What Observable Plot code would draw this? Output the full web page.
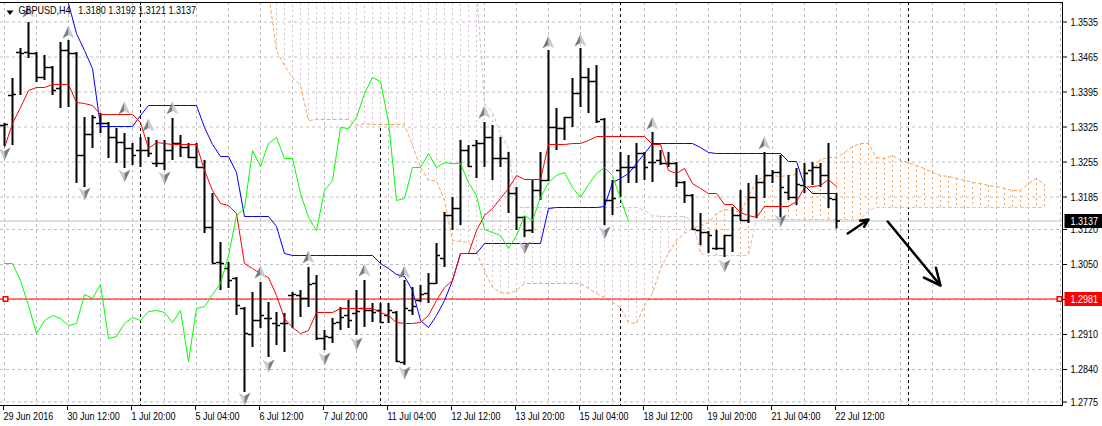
<!DOCTYPE html>
<html><head><meta charset="utf-8">
<script src="https://cdn.jsdelivr.net/npm/d3@7"></script>
<script src="https://cdn.jsdelivr.net/npm/@observablehq/plot@0.6"></script>
<style>
html,body{margin:0;padding:0;background:#fff;}
#chart{width:1102px;height:426px;overflow:hidden}
svg{display:block}
</style>
</head><body><div id="chart"></div>
<script>
// ---- data ----
const symbolName = "GBPUSD", timeframe = "H4";
const open = [
1.3328,1.3388,1.3474,1.3474,1.3472,1.3424,1.3444,1.3402,1.3478,1.3472,
1.3268,1.3310,1.3332,1.3332,1.3304,1.3294,1.3282,1.3278,1.3278,1.3252,
1.3252,1.3278,1.3292,1.3284,1.3264,1.3244,1.3124,1.3054,1.3042,1.3022,
1.2962,1.2910,1.2938,1.2942,1.2932,1.2932,1.2988,1.2988,1.2982,1.3012,
1.2902,1.2904,1.2934,1.2948,1.2952,1.2962,1.2958,1.2958,1.2948,1.2954,
1.2854,1.2958,1.2978,1.2992,1.3012,1.3062,1.3148,1.3162,1.3278,1.3288,
1.3292,1.3304,1.3262,1.3262,1.3192,1.3144,1.3118,1.3198,1.3218,1.3324,
1.3322,1.3344,1.3392,1.3424,1.3416,1.3340,1.3178,1.3238,1.3244,1.3244,
1.3272,1.3254,1.3258,1.3252,1.3252,1.3214,1.3188,1.3118,1.3114,1.3082,
1.3082,1.3108,1.3148,1.3138,1.3184,1.3214,1.3228,1.3234,1.3194,1.3184,
1.3208,1.3238,1.3244,1.3228,1.3180];
const high = [
1.3332,1.3422,1.3482,1.3534,1.3474,1.3468,1.3446,1.3494,1.3498,1.3474,
1.3344,1.3348,1.3352,1.3334,1.3322,1.3312,1.3292,1.3304,1.3304,1.3298,
1.3298,1.3342,1.3308,1.3292,1.3292,1.3258,1.3192,1.3094,1.3054,1.3024,
1.2964,1.2994,1.3014,1.2974,1.2954,1.2952,1.2994,1.2998,1.3044,1.3028,
1.2918,1.2942,1.2964,1.2978,1.2998,1.3018,1.2972,1.2972,1.2972,1.2956,
1.3018,1.3004,1.3008,1.3032,1.3092,1.3154,1.3184,1.3298,1.3288,1.3298,
1.3334,1.3328,1.3304,1.3274,1.3204,1.3146,1.3218,1.3274,1.3478,1.3362,
1.3344,1.3422,1.3482,1.3442,1.3448,1.3342,1.3218,1.3274,1.3268,1.3292,
1.3274,1.3314,1.3278,1.3274,1.3254,1.3216,1.3190,1.3152,1.3116,1.3118,
1.3108,1.3164,1.3198,1.3212,1.3228,1.3274,1.3238,1.3268,1.3228,1.3242,
1.3252,1.3254,1.3252,1.3292,1.3192];
const low = [
1.3286,1.3288,1.3388,1.3462,1.3414,1.3418,1.3388,1.3362,1.3364,1.3212,
1.3204,1.3282,1.3312,1.3262,1.3252,1.3242,1.3248,1.3244,1.3264,1.3244,
1.3238,1.3258,1.3264,1.3262,1.3242,1.3112,1.3052,1.2998,1.3002,1.2948,
1.2794,1.2884,1.2922,1.2864,1.2888,1.2874,1.2922,1.2944,1.2964,1.2898,
1.2878,1.2892,1.2918,1.2922,1.2908,1.2924,1.2934,1.2932,1.2932,1.2854,
1.2848,1.2948,1.2974,1.2972,1.3010,1.3044,1.3118,1.3128,1.3244,1.3222,
1.3244,1.3218,1.3244,1.3152,1.3118,1.3104,1.3112,1.3178,1.3216,1.3278,
1.3298,1.3324,1.3364,1.3352,1.3332,1.3128,1.3148,1.3184,1.3212,1.3212,
1.3218,1.3214,1.3248,1.3244,1.3204,1.3172,1.3118,1.3088,1.3072,1.3078,
1.3064,1.3074,1.3138,1.3132,1.3142,1.3182,1.3212,1.3144,1.3178,1.3168,
1.3192,1.3208,1.3204,1.3162,1.3121];
const close = [
1.3330,1.3390,1.3472,1.3472,1.3424,1.3444,1.3398,1.3478,1.3472,1.3268,
1.3310,1.3344,1.3332,1.3304,1.3294,1.3282,1.3268,1.3278,1.3272,1.3252,
1.3278,1.3292,1.3284,1.3264,1.3244,1.3124,1.3052,1.3052,1.3018,1.2968,
1.2912,1.2938,1.2948,1.2942,1.2928,1.2932,1.2990,1.2982,1.3010,1.2902,
1.2906,1.2932,1.2944,1.2938,1.2956,1.2958,1.2954,1.2934,1.2958,1.2856,
1.2962,1.2966,1.2990,1.3012,1.3068,1.3148,1.3162,1.3278,1.3246,1.3292,
1.3304,1.3262,1.3262,1.3192,1.3144,1.3118,1.3198,1.3218,1.3324,1.3322,
1.3344,1.3392,1.3424,1.3416,1.3336,1.3178,1.3182,1.3244,1.3244,1.3272,
1.3244,1.3254,1.3252,1.3252,1.3214,1.3188,1.3120,1.3114,1.3108,1.3082,
1.3108,1.3148,1.3138,1.3184,1.3214,1.3228,1.3234,1.3204,1.3184,1.3210,
1.3232,1.3244,1.3228,1.3182,1.3137];
// Tenkan-sen (red)
const tenkan = [
1.3284,1.3332,1.3364,1.3398,1.3404,1.3404,1.3410,1.3410,1.3410,1.3374,
1.3372,1.3368,1.3350,1.3350,1.3350,1.3350,1.3350,1.3334,1.3282,1.3294,
1.3292,1.3290,1.3290,1.3290,1.3290,1.3238,1.3198,1.3172,1.3168,1.3152,
1.3052,1.3042,1.3032,1.3024,1.2988,1.2942,1.2924,1.2912,1.2918,1.2954,
1.2954,1.2954,1.2962,1.2962,1.2962,1.2962,1.2962,1.2954,1.2948,1.2934,
1.2932,1.2932,1.2934,1.2948,1.2978,1.3004,1.3018,1.3072,1.3072,1.3118,
1.3148,1.3162,1.3182,1.3202,1.3228,1.3220,1.3220,1.3220,1.3290,1.3290,
1.3290,1.3292,1.3292,1.3298,1.3306,1.3306,1.3306,1.3306,1.3306,1.3306,
1.3306,1.3290,1.3290,1.3238,1.3232,1.3242,1.3212,1.3202,1.3192,1.3192,
1.3170,1.3170,1.3154,1.3148,1.3144,1.3166,1.3166,1.3166,1.3166,1.3176,
1.3204,1.3206,1.3208,1.3220,1.3206];
// Kijun-sen (blue); first bars are above the visible area
const kijun = [
null,null,null,null,null,null,null,1.3628,1.3572,1.3512,
1.3478,1.3442,1.3326,1.3326,1.3326,1.3326,1.3326,1.3348,1.3368,1.3368,
1.3368,1.3368,1.3368,1.3368,1.3368,1.3324,1.3290,1.3266,1.3266,1.3234,
1.3146,1.3146,1.3146,1.3146,1.3126,1.3072,1.3068,1.3068,1.3068,1.3068,
1.3068,1.3068,1.3068,1.3068,1.3068,1.3068,1.3068,1.3052,1.3042,1.3030,
1.3026,1.2998,1.2938,1.2924,1.2948,1.2978,1.3018,1.3072,1.3072,1.3072,
1.3092,1.3092,1.3092,1.3092,1.3092,1.3092,1.3092,1.3092,1.3162,1.3164,
1.3164,1.3164,1.3164,1.3164,1.3164,1.3166,1.3214,1.3222,1.3232,1.3252,
1.3272,1.3292,1.3292,1.3292,1.3292,1.3292,1.3292,1.3284,1.3274,1.3272,
1.3272,1.3272,1.3272,1.3272,1.3272,1.3272,1.3272,1.3272,1.3256,1.3256,
1.3208,1.3192,1.3192,1.3192,1.3192];
const chikouShift = 26;
// Senkou spans, from bar 33 to bar 130 (projected ahead)
const cloudStart = 33;
const senkouA = [
1.3594,1.3478,1.3448,1.3424,1.3408,1.3338,1.3340,1.3340,1.3340,1.3340,
1.3340,1.3328,1.3332,1.3330,1.3330,1.3330,1.3330,1.3330,1.3288,1.3244,
1.3218,1.3218,1.3178,1.3098,1.3096,1.3094,1.3074,1.3038,1.3004,1.2994,
1.2992,1.2998,1.3012,1.3012,1.3012,1.3012,1.3012,1.3012,1.3012,1.3012,
1.3002,1.2992,1.2984,1.2974,1.2964,1.2934,1.2932,1.2968,1.2992,1.3042,
1.3072,1.3098,1.3112,1.3122,1.3128,1.3134,1.3152,1.3160,1.3158,1.3154,
1.3186,1.3218,1.3226,1.3228,1.3226,1.3228,1.3230,1.3234,1.3236,1.3260,
1.3264,1.3264,1.3274,1.3286,1.3292,1.3292,1.3264,1.3262,1.3268,1.3258,
1.3254,1.3248,1.3242,1.3234,1.3228,1.3226,1.3222,1.3218,1.3214,1.3212,
1.3208,1.3206,1.3202,1.3198,1.3198,1.3212,1.3222,1.3210];
const senkouB = [
1.3602,1.3602,1.3602,1.3602,1.3602,1.3602,1.3602,1.3602,1.3602,1.3602,
1.3602,1.3602,1.3602,1.3602,1.3602,1.3602,1.3602,1.3602,1.3602,1.3602,
1.3602,1.3602,1.3602,1.3602,1.3602,1.3602,1.3602,1.3372,1.3354,1.3312,
1.3282,1.3164,1.3164,1.3164,1.3164,1.3164,1.3164,1.3164,1.3164,1.3164,
1.3164,1.3164,1.3164,1.3164,1.3164,1.3164,1.3164,1.3158,1.3148,1.3146,
1.3146,1.3146,1.3146,1.3138,1.3072,1.3068,1.3068,1.3068,1.3068,1.3068,
1.3068,1.3142,1.3140,1.3140,1.3140,1.3140,1.3140,1.3140,1.3140,1.3140,
1.3140,1.3140,1.3140,1.3140,1.3140,1.3158,1.3164,1.3164,1.3164,1.3164,
1.3164,1.3164,1.3164,1.3164,1.3164,1.3164,1.3164,1.3164,1.3164,1.3164,
1.3164,1.3164,1.3164,1.3164,1.3164,1.3164,1.3164,1.3164];
// fractals
const upIdx = [3,8,15,18,21,32,38,45,50,60,68,72,81,95];
const upPrice = [1.3556,1.3514,1.3362,1.3328,1.3362,1.3034,1.3064,1.3038,1.3034,1.3354,1.3494,1.3498,1.3332,1.3292];
const downIdx = [0,10,15,20,30,33,40,44,50,65,75,90,97];
const downPrice = [1.3272,1.3192,1.3228,1.3224,1.2782,1.2848,1.2862,1.2892,1.2834,1.3084,1.3114,1.3048,1.3138];
// horizontal lines
const bidPrice = 1.3137;
const levelPrice = 1.2981;
// weekly separators (bar index)
const sepIdx = [17,47,77,113];
// drawn arrows
const arrowX1 = [105.4, 110.4], arrowY1 = [1.3112, 1.3136];
const arrowX2 = [108.0, 117.0], arrowY2 = [1.3140, 1.3008];
// axes
const xLabelIdx = [0,8,16,24,32,40,48,56,64,72,80,88,96,104];
const xLabels = ["29 Jun 2016","30 Jun 12:00","1 Jul 20:00","5 Jul 04:00","6 Jul 12:00","7 Jul 20:00","11 Jul 04:00","12 Jul 12:00","13 Jul 20:00","15 Jul 04:00","18 Jul 12:00","19 Jul 20:00","21 Jul 04:00","22 Jul 12:00"];
const yTicks = [1.3535,1.3465,1.3395,1.3325,1.3255,1.3185,1.3120,1.3050,1.2980,1.2910,1.2840,1.2775];

// ---- build ----
const FONT = '"Liberation Sans",Arial,sans-serif';
const bars = open.map((o, i) => ({i, o, h: high[i], l: low[i], c: close[i]}));
const tenkanData = tenkan.map((v, i) => ({i, v}));
const kijunData = kijun.map((v, i) => ({i, v})).filter(d => d.v != null);
const chikouData = bars.filter(d => d.i >= chikouShift).map(d => ({i: d.i - chikouShift, v: d.c}));
const cloud = senkouA.map((a, k) => ({j: cloudStart + k, a, b: senkouB[k]}));
const ups = upIdx.map((i, k) => ({i, p: upPrice[k]}));
const downs = downIdx.map((i, k) => ({i, p: downPrice[k]}));
const arrows = arrowX1.map((x, k) => ({x1: x, y1: arrowY1[k], x2: arrowX2[k], y2: arrowY2[k]}));
const last = bars[bars.length - 1];
const title = `${symbolName},${timeframe}\u00a0\u00a0 ${last.o.toFixed(4)} ${last.h.toFixed(4)} ${last.l.toFixed(4)} ${last.c.toFixed(4)}`;
const gridIdx = d3.range(0, 133, 4);

const sym = pts => ({draw(ctx) { ctx.moveTo(pts[0][0], pts[0][1]); for (const p of pts.slice(1)) ctx.lineTo(p[0], p[1]); ctx.closePath(); }});
const upL = sym([[0,-7],[-6,6],[0,2.5]]), upR = sym([[0,-7],[6,6],[0,2.5]]);
const dnL = sym([[0,7],[-6,-6],[0,-2.5]]), dnR = sym([[0,7],[6,-6],[0,-2.5]]);
const boxSym = sym([[2,-7],[40,-7],[40,7],[2,7]]);
const triSym = sym([[-3.5,-2],[3.5,-2],[0,2.5]]);

const dash = "3,3";
const chart = Plot.plot({
  width: 1102, height: 426,
  marginLeft: 0, marginRight: 40, marginTop: 2, marginBottom: 21,
  style: {background: "white", fontFamily: FONT, fontSize: "11px", color: "black"},
  x: {type: "linear", domain: [-0.5, 132.25], axis: null},
  y: {type: "linear", domain: [1.2768, 1.3574], axis: null},
  marks: [
    Plot.gridX(gridIdx, {stroke: "#c0c0c0", strokeOpacity: 1, strokeDasharray: dash}),
    Plot.gridY(yTicks, {stroke: "#c0c0c0", strokeOpacity: 1, strokeDasharray: dash}),
    Plot.ruleX(sepIdx, {stroke: "black", strokeDasharray: dash}),
    Plot.ruleX(cloud, {x: "j", y1: "a", y2: "b", stroke: "white", clip: true}),
    Plot.ruleX(cloud.filter(d => d.a > d.b), {x: "j", y1: "a", y2: "b", stroke: "#F4A460", strokeDasharray: "2,3", clip: true}),
    Plot.ruleX(cloud.filter(d => d.a <= d.b), {x: "j", y1: "a", y2: "b", stroke: "#D8BFD8", strokeDasharray: "2,3", clip: true}),
    Plot.line(cloud, {x: "j", y: "a", stroke: "#F4A460", strokeWidth: 1, strokeDasharray: dash, clip: true}),
    Plot.line(cloud, {x: "j", y: "b", stroke: "#D8BFD8", strokeWidth: 1, strokeDasharray: dash, clip: true}),
    Plot.ruleY([bidPrice], {stroke: "#c0c0c0"}),
    Plot.ruleY([levelPrice], {stroke: "#ff0000"}),
    // OHLC bars
    Plot.ruleX(bars, {x: "i", y1: "l", y2: "h", stroke: "black", strokeWidth: 2}),
    Plot.ruleY(bars, {y: "o", x1: d => d.i - 0.5, x2: "i", stroke: "black", strokeWidth: 1.5}),
    Plot.ruleY(bars, {y: "c", x1: "i", x2: d => d.i + 0.5, stroke: "black", strokeWidth: 1.5}),
    // Ichimoku lines
    Plot.line(kijunData, {x: "i", y: "v", stroke: "#0000ff", strokeWidth: 1, clip: true}),
    Plot.line(tenkanData, {x: "i", y: "v", stroke: "#ff0000", strokeWidth: 1}),
    Plot.line(chikouData, {x: "i", y: "v", stroke: "#00ff00", strokeWidth: 1}),
    // fractals
    Plot.dot(ups, {x: "i", y: "p", symbol: upL, fill: "#7c7c7c", stroke: "none"}),
    Plot.dot(ups, {x: "i", y: "p", symbol: upR, fill: "#c4ccd6", stroke: "none"}),
    Plot.dot(downs, {x: "i", y: "p", symbol: dnL, fill: "#c4ccd6", stroke: "none"}),
    Plot.dot(downs, {x: "i", y: "p", symbol: dnR, fill: "#7c7c7c", stroke: "none"}),
    // drawn arrows
    Plot.arrow(arrows, {x1: "x1", y1: "y1", x2: "x2", y2: "y2", stroke: "black", strokeWidth: 2.5, headLength: 11, headAngle: 50}),
    // frame
    Plot.frame({anchor: "top", stroke: "black"}),
    Plot.frame({anchor: "right", stroke: "black"}),
    Plot.frame({anchor: "bottom", stroke: "black"}),
    // axes
    Plot.axisX(xLabelIdx, {anchor: "bottom", tickSize: 5, tickPadding: 2, textAnchor: "start", dx: -1,
      tickFormat: d => xLabels[xLabelIdx.indexOf(d)], fontSize: 11, label: null}),
    Plot.axisY(yTicks, {anchor: "right", tickSize: 4, tickPadding: 4, tickFormat: d => d.toFixed(4), fontSize: 11, label: null}),
    // price labels
    Plot.dot([bidPrice], {y: d => d, frameAnchor: "right", symbol: boxSym, fill: "black", stroke: "none"}),
    Plot.text([bidPrice], {y: d => d, frameAnchor: "right", text: d => d.toFixed(4), textAnchor: "start", dx: 8, fill: "white", fontSize: 11}),
    Plot.dot([levelPrice], {y: d => d, frameAnchor: "right", symbol: boxSym, fill: "#ff0000", stroke: "none"}),
    Plot.text([levelPrice], {y: d => d, frameAnchor: "right", text: d => d.toFixed(4), textAnchor: "start", dx: 8, fill: "white", fontSize: 11}),
    Plot.dot([levelPrice], {y: d => d, frameAnchor: "left", dx: 5, symbol: "square", r: 2.6, fill: "white", stroke: "#ff0000"}),
    Plot.dot([levelPrice], {y: d => d, frameAnchor: "right", dx: -3, symbol: "square", r: 2.6, fill: "white", stroke: "#ff0000"}),
    // title
    Plot.dot([0], {frameAnchor: "top-left", dx: 9.5, dy: 10, symbol: triSym, fill: "black", stroke: "none"}),
    Plot.text([title], {frameAnchor: "top-left", dx: 18, dy: 4, textAnchor: "start", lineAnchor: "top", fontSize: 11, fill: "black"})
  ]
});
document.getElementById("chart").appendChild(chart);
// condense the text horizontally, like the narrow terminal font of the original
chart.querySelectorAll("text").forEach(t => {
  const len = t.getComputedTextLength();
  if (len > 0) {
    t.setAttribute("textLength", (len * 0.82).toFixed(1));
    t.setAttribute("lengthAdjust", "spacingAndGlyphs");
  }
});
</script>
</body></html>
